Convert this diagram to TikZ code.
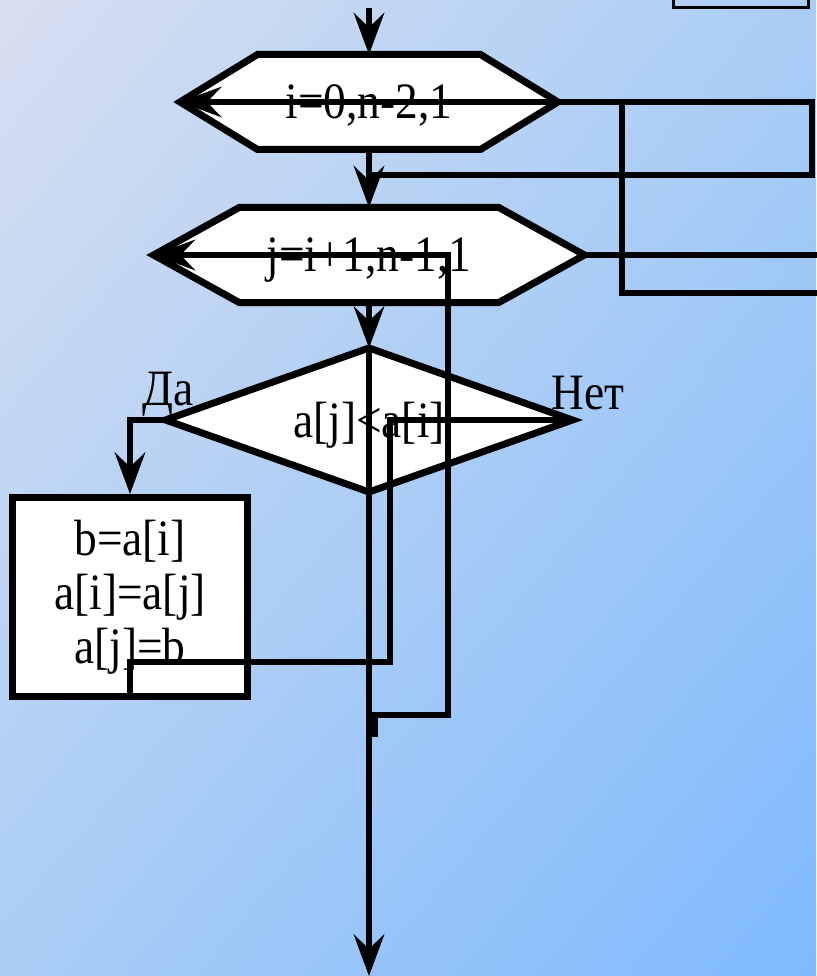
\documentclass[tikz,border=0pt]{standalone}
\usepackage{fontspec}
\setmainfont{Liberation Serif}[FakeStretch=0.89]
\usetikzlibrary{arrows.meta,shapes.geometric,shapes.symbols,shadings}
\definecolor{bgtl}{RGB}{216,223,240}
\definecolor{bgmid}{RGB}{170,205,245}
\definecolor{bgbr}{RGB}{126,186,254}
\begin{document}
\begin{tikzpicture}[x=1pt,y=-1pt,
  font=\fontsize{51}{54}\selectfont,
  hexnode/.style={draw,fill=white,line width=7pt,shape=signal,signal to=west and east,inner sep=0pt,outer sep=0pt,text depth=0pt,minimum height=95pt},
  decision/.style={draw,fill=white,line width=7pt,diamond,aspect=2.8,inner sep=0pt,outer sep=0pt,text depth=0pt,minimum width=407pt,minimum height=144pt},
  process/.style={draw,fill=white,line width=7pt,rectangle,align=center,inner sep=0pt,minimum width=235pt,minimum height=199pt},
  lbl/.style={inner sep=0pt},
  conn/.style={line width=6.5pt},
  tip/.style={-{Stealth[length=42pt,width=31pt,inset=15pt,line width=1pt]}}]
  \useasboundingbox (0,0) rectangle (816,976);
  \shade[upper left=bgtl,lower right=bgbr,upper right=bgmid,lower left=bgmid] (0,0) rectangle (816,976);
  \node[draw,line width=3pt,minimum width=135pt,minimum height=80pt] (prev) at (741,-32) {};
  \node[hexnode,signal pointer angle=63,minimum width=378pt] (iloop) at (369,102) {i=0,n-2,1};
  \node[hexnode,signal pointer angle=58,minimum width=431pt] (jloop) at (369,255) {j=i+1,n-1,1};
  \node[decision] (cmp) at (369,420) {a[j]<a[i]};
  \node[process] (swap) at (130,597) {b=a[i]\\a[i]=a[j]\\a[j]=b};
  \node[lbl] (yes) at (168,394) {Да};
  \node[lbl] (no) at (588,393) {Нет};
  \coordinate (start) at (369,8);
  \coordinate (end) at (369,976);
  \coordinate (iturn) at (812,102);
  \coordinate (jin) at (369,175);
  \coordinate (iback) at (622,102);
  \coordinate (iexit) at (830,293);
  \coordinate (jexit) at (830,255);
  \coordinate (jback) at (448,715);
  \coordinate (noend) at (390,662);
  \draw[conn,tip] (start) -- (iloop.north);
  \draw[conn,tip] (iloop.south) -- (jloop.north);
  \draw[conn] (iloop.east) -- (iturn) |- (jin);
  \draw[conn,tip] (iexit) -| (iback) -- (iloop.west);
  \draw[conn] (jloop.east) -- (jexit);
  \draw[conn,tip] (jloop.south) -- (cmp.north);
  \draw[conn] (cmp.north) -- (cmp.south);
  \draw[conn,tip] (cmp.south) -- (end);
  \draw[conn,tip] (jback -| end) -- (jback) |- (jloop.west);
  \draw[conn,tip] (cmp.west) -| (swap.north);
  \draw[conn] (cmp.east) -- (cmp.east -| noend) -- (noend) -| (swap.south);
  \fill (372,718) rectangle (378,737);
\end{tikzpicture}
\end{document}
